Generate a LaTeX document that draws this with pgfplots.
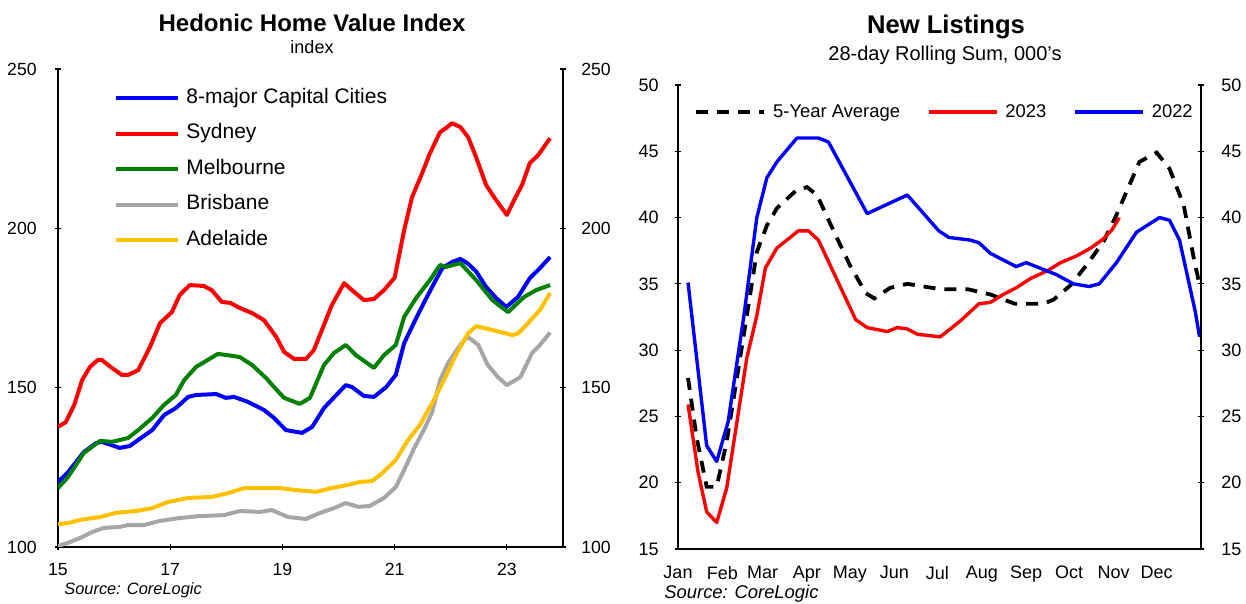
\documentclass[border=0pt]{standalone}
\usepackage{pgfplots}
\pgfplotsset{compat=1.18}
\usepackage{fontspec}
\setmainfont{Liberation Sans}
\definecolor{cblue}{HTML}{0000FF}
\definecolor{cred}{HTML}{FF0000}
\definecolor{cgreen}{HTML}{008000}
\definecolor{cgray}{HTML}{A6A6A6}
\definecolor{cyell}{HTML}{FFC000}
\pgfplotsset{
  common/.style={scale only axis,
    tick align=inside, major tick length=3pt, tick style={black, line width=0.6pt},
    /pgf/number format/assume math mode=true},
  nolinearrow/.style={axis line style={-, black, line width=0.75pt},
    every outer x axis line/.append style={-}, every outer y axis line/.append style={-}},
}
\begin{document}
\begin{tikzpicture}[x=1pt,y=1pt]
\useasboundingbox (-29pt,-28.5pt) rectangle (594pt,273.5pt);
% ---------------- Left panel ----------------
\begin{axis}[common, at={(0pt,0pt)}, anchor=south west,
  width=252.5pt, height=239pt,
  xmin=15, xmax=24, ymin=100, ymax=250,
  axis x line=bottom, axis y line=left, nolinearrow,
  xtick={15,17,19,21,23}, ytick={100,150,200,250},
  tick label style={font=\fontsize{8.8}{10}\selectfont},
  yticklabel style={inner sep=0pt, xshift=-9pt},
  xticklabel style={inner sep=0pt, yshift=-6.5pt},
  legend style={at={(rel axis cs:0.1109,0.961)}, anchor=north west, draw=none, fill=none,
    inner sep=0pt, font=\fontsize{10.5}{12}\selectfont,
    nodes={inner sep=0pt, text height=7.5pt, text depth=2.5pt}, row sep=7.75pt,
    /tikz/every odd column/.append style={column sep=3pt}},
  legend cell align=left,
  legend image code/.code={\draw[#1] (0pt,0pt) -- (31pt,0pt);},
]
\addplot[cblue, line width=2pt, line join=round] coordinates {
(15.0,120.4) (15.18,123.5) (15.46,129.8) (15.68,132.6) (15.78,133.0) (16.1,131.1) (16.28,131.7) (16.43,133.6) (16.68,136.7) (16.89,141.4) (17.1,143.6) (17.32,147.1) (17.46,147.7) (17.82,148.0) (17.99,146.8) (18.14,147.1) (18.39,145.5) (18.67,143.0) (18.85,140.5) (19.06,136.7) (19.35,135.8) (19.53,137.7) (19.74,143.6) (19.96,147.7) (20.13,150.8) (20.24,150.2) (20.45,147.4) (20.63,147.1) (20.85,150.2) (21.02,154.0) (21.17,164.0) (21.35,170.6) (21.52,176.6) (21.74,184.0) (21.85,187.5) (22.02,189.4) (22.17,190.4) (22.30,189.0) (22.45,186.5) (22.63,181.6) (22.81,178.1) (22.99,175.3) (23.2,178.5) (23.41,184.4) (23.59,187.5) (23.77,191.0)};
\addlegendentry{8-major Capital Cities}
\addplot[cred, line width=2pt, line join=round] coordinates {
(15.0,137.7) (15.14,139.2) (15.29,144.6) (15.43,152.4) (15.57,156.5) (15.71,158.7) (15.78,158.7) (15.96,156.2) (16.14,154.0) (16.25,154.0) (16.43,155.5) (16.64,162.8) (16.82,170.3) (17.03,173.7) (17.17,179.1) (17.35,182.2) (17.6,181.9) (17.74,180.6) (17.92,176.9) (18.07,176.6) (18.24,175.0) (18.46,173.4) (18.67,171.2) (18.89,165.9) (19.03,161.2) (19.21,159.0) (19.42,159.0) (19.56,161.8) (19.74,169.7) (19.88,175.9) (20.10,182.8) (20.24,180.6) (20.45,177.5) (20.63,177.8) (20.81,180.6) (21.0,184.5) (21.17,199.5) (21.31,209.8) (21.49,217.3) (21.63,223.6) (21.81,230.2) (21.92,231.5) (22.02,233.0) (22.17,231.8) (22.31,228.6) (22.45,222.4) (22.63,213.6) (22.77,209.8) (22.91,206.4) (23.0,204.2) (23.13,208.9) (23.27,213.6) (23.41,220.5) (23.56,223.0) (23.77,228.3)};
\addlegendentry{Sydney}
\addplot[cgreen, line width=2pt, line join=round] coordinates {
(15.0,118.5) (15.18,122.0) (15.46,129.5) (15.75,133.3) (15.96,133.0) (16.25,134.2) (16.43,136.7) (16.68,140.5) (16.89,144.6) (17.1,147.7) (17.25,152.4) (17.46,156.5) (17.67,158.7) (17.85,160.6) (18.1,160.0) (18.24,159.6) (18.46,157.1) (18.71,153.0) (18.85,150.2) (19.03,146.8) (19.31,144.9) (19.49,146.8) (19.74,157.1) (19.92,160.9) (20.13,163.4) (20.31,160.2) (20.63,156.2) (20.81,160.2) (21.02,163.4) (21.17,172.2) (21.38,178.1) (21.63,183.8) (21.81,188.5) (21.92,187.9) (22.17,189.1) (22.45,183.8) (22.74,177.5) (23.02,173.7) (23.31,178.5) (23.52,180.6) (23.77,182.2)};
\addlegendentry{Melbourne}
\addplot[cgray, line width=2pt, line join=round] coordinates {
(15.0,100.3) (15.18,101.3) (15.39,102.8) (15.61,104.7) (15.82,106.0) (16.1,106.3) (16.25,106.9) (16.53,106.9) (16.82,108.2) (17.17,109.1) (17.53,109.7) (17.96,110.0) (18.24,111.3) (18.6,111.0) (18.81,111.6) (19.1,109.4) (19.42,108.8) (19.67,110.7) (19.92,112.2) (20.13,113.8) (20.35,112.6) (20.56,112.9) (20.81,115.4) (21.02,118.8) (21.17,124.2) (21.35,131.1) (21.52,136.7) (21.67,142.4) (21.81,152.4) (21.95,157.7) (22.17,163.4) (22.30,166.0) (22.49,163.4) (22.66,157.1) (22.84,153.3) (23.0,150.8) (23.24,153.3) (23.45,160.9) (23.59,163.4) (23.77,167.3)};
\addlegendentry{Brisbane}
\addplot[cyell, line width=2pt, line join=round] coordinates {
(15.0,107.2) (15.18,107.5) (15.39,108.5) (15.75,109.4) (16.03,110.7) (16.39,111.3) (16.68,112.2) (16.96,114.1) (17.32,115.4) (17.74,115.7) (18.03,116.9) (18.32,118.5) (18.6,118.5) (18.96,118.5) (19.21,117.9) (19.6,117.3) (19.88,118.5) (20.17,119.5) (20.38,120.4) (20.6,120.7) (20.78,123.2) (21.02,127.3) (21.24,133.6) (21.45,138.3) (21.67,145.2) (21.88,152.4) (22.09,160.2) (22.31,167.1) (22.45,169.3) (22.67,168.4) (22.99,167.0) (23.1,166.5) (23.2,167.0) (23.38,170.3) (23.59,174.4) (23.77,179.7)};
\addlegendentry{Adelaide}
\end{axis}
\begin{axis}[common, at={(0pt,0pt)}, anchor=south west,
  width=252.5pt, height=239pt,
  xmin=15, xmax=24, ymin=100, ymax=250,
  axis y line=right, axis x line=none, nolinearrow,
  ytick={100,150,200,250},
  tick label style={font=\fontsize{8.8}{10}\selectfont},
  yticklabel style={inner sep=0pt, xshift=7.5pt},
]
\end{axis}
% ---------------- Right panel ----------------
\begin{axis}[common, at={(310pt,-1pt)}, anchor=south west,
  width=261.5pt, height=232pt,
  xmin=0, xmax=365, ymin=15, ymax=50,
  axis x line=bottom, axis y line=left, nolinearrow,
  xtick={0,31,59,90,120,151,181,212,243,273,304,334},
  xticklabels={Jan,Feb,Mar,Apr,May,Jun,Jul,Aug,Sep,Oct,Nov,Dec},
  xtick style={draw=none},
  ytick={15,20,...,50},
  tick label style={font=\fontsize{9}{10}\selectfont},
  yticklabel style={inner sep=0pt, xshift=-8pt},
  xticklabel style={inner sep=0pt, yshift=-7pt},
  legend columns=3,
  legend style={at={(rel axis cs:0.0306,0.962)}, anchor=north west, draw=none, fill=none,
    inner sep=0pt, font=\fontsize{9.2}{11}\selectfont,
    nodes={inner sep=0pt, text height=7pt, text depth=2pt},
    /tikz/every odd column/.append style={column sep=3.5pt},
    /tikz/every even column/.append style={column sep=13.5pt}},
  legend image code/.code={\draw[#1] (0pt,0pt) -- (34pt,0pt);},
]
\addplot[black, line width=1.9pt, dash pattern=on 6pt off 4.5pt] coordinates {
(7,27.9) (13,23.4) (20,19.7) (27,19.7) (34,23.1) (47,31.9) (55,37.4) (62,39.4) (69,40.7) (82,42.0) (90,42.3) (97,41.7) (109,38.9) (120,36.4) (131,34.3) (137,33.9) (148,34.7) (160,35.0) (183,34.6) (202,34.6) (218,34.2) (235,33.5) (255,33.5) (262,33.8) (274,34.9) (285,36.4) (297,38.2) (306,40.2) (316,42.7) (322,44.2) (334,44.9) (343,43.7) (353,40.9) (360,36.9) (364,34.9)};
\addlegendentry{5-Year Average}
\addplot[cred, line width=1.7pt, line join=round] coordinates {
(7,25.9) (14,20.8) (20,17.8) (27,17.0) (34,19.6) (48,29.4) (55,32.6) (61,36.2) (69,37.7) (84,39.0) (91,39.0) (98,38.3) (124,32.3) (132,31.7) (146,31.4) (153,31.7) (160,31.6) (167,31.2) (183,31.0) (197,32.2) (210,33.5) (218,33.6) (227,34.2) (236,34.7) (246,35.4) (258,36.0) (267,36.6) (278,37.1) (288,37.7) (297,38.4) (303,39.1) (308,40.0)};
\addlegendentry{2023}
\addplot[cblue, line width=1.7pt, line join=round] coordinates {
(7,35.1) (20,22.8) (27,21.6) (35,24.6) (46,32.6) (55,40.0) (62,43.0) (69,44.2) (83,46.0) (98,46.0) (105,45.7) (132,40.3) (160,41.7) (182,39.0) (189,38.5) (204,38.3) (210,38.1) (218,37.3) (236,36.3) (243,36.6) (250,36.3) (264,35.7) (276,35.0) (287,34.8) (294,35.0) (306,36.6) (320,38.9) (336,40.0) (343,39.8) (350,38.3) (361,32.9) (364,31.0)};
\addlegendentry{2022}
\end{axis}
\begin{axis}[common, at={(310pt,-1pt)}, anchor=south west,
  width=261.5pt, height=232pt,
  xmin=0, xmax=365, ymin=15, ymax=50,
  axis y line=right, axis x line=none, nolinearrow,
  ytick={15,20,...,50},
  tick label style={font=\fontsize{9}{10}\selectfont},
  yticklabel style={inner sep=0pt, xshift=8.5pt},
]
\end{axis}
% ---------------- Titles and sources ----------------
\node[font=\fontsize{12}{14}\selectfont\bfseries] at (127pt,262pt) {Hedonic Home Value Index};
\node[font=\fontsize{9}{11}\selectfont] at (127pt,250pt) {index};
\node[font=\fontsize{12.8}{15}\selectfont\bfseries] at (444pt,260pt) {New Listings};
\node[font=\fontsize{10}{12}\selectfont] at (443.5pt,246pt) {28-day Rolling Sum, 000's};
\node[anchor=base west, inner sep=0pt, font=\fontsize{8.2}{10}\selectfont\itshape] at (3pt,-24pt) {Source: CoreLogic};
\node[anchor=base west, inner sep=0pt, font=\fontsize{9.2}{11}\selectfont\itshape] at (303pt,-26pt) {Source: CoreLogic};
\end{tikzpicture}
\end{document}
